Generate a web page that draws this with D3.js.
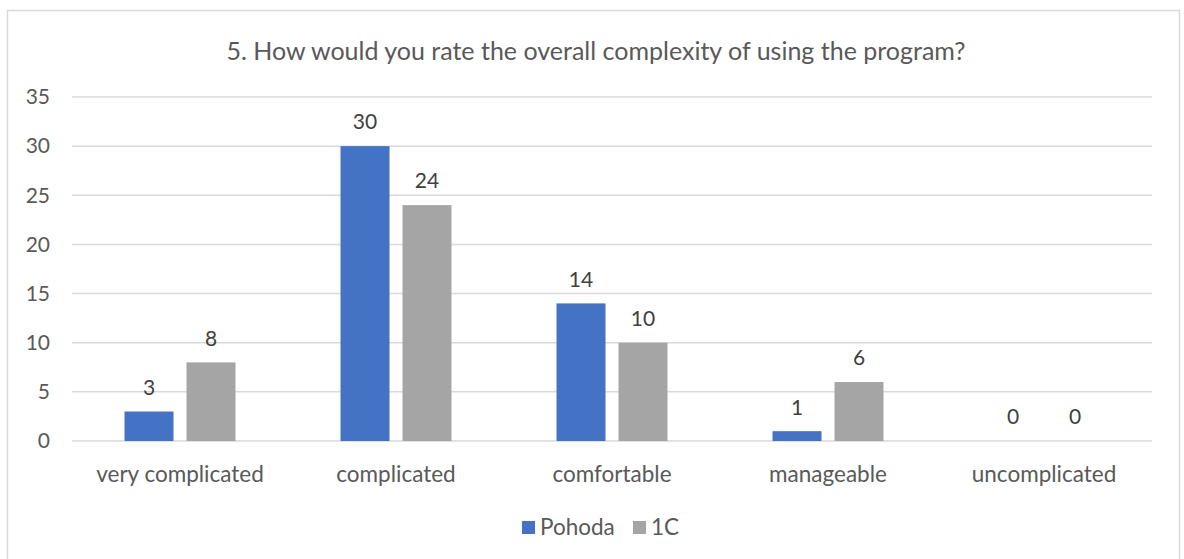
<!DOCTYPE html>
<html>
<head>
<meta charset="utf-8">
<script src="https://cdn.jsdelivr.net/npm/d3@7"></script>
<style>
  body { margin: 0; background: #fff; }
  text { font-family: Lato, "Open Sans", sans-serif; }
</style>
</head>
<body>
<div id="chart-area"></div>
<script>
var categories = ["very complicated", "complicated", "comfortable", "manageable", "uncomplicated"];
var seriesNames = ["Pohoda", "1C"];
var pohoda = [3, 30, 14, 1, 0];
var oneC = [8, 24, 10, 6, 0];
var yTicks = [0, 5, 10, 15, 20, 25, 30, 35];
var colors = ["#4472C4", "#A5A5A5"];

var width = 1184, height = 559;
var plotLeft = 72, plotRight = 1152, plotTop = 97, plotBottom = 441;

var svg = d3.select("#chart-area").append("svg")
	.attr("width", width)
	.attr("height", height);

// chart border
svg.append("rect")
	.attr("x", 7.5)
	.attr("y", 10.5)
	.attr("width", 1172)
	.attr("height", 560)
	.attr("fill", "white")
	.attr("stroke", "#d9d9d9")
	.attr("stroke-width", 1.5);

var x0 = d3.scaleBand().domain(categories).range([plotLeft, plotRight]);
var x1 = d3.scaleBand().domain(seriesNames)
	.range([52.5, 163.5])
	.paddingInner(13 / 62);
var y = d3.scaleLinear().domain([0, 35]).range([plotBottom, plotTop]);

// gridlines
svg.append("g").selectAll("line")
	.data(yTicks)
	.enter().append("line")
	.attr("x1", plotLeft)
	.attr("x2", plotRight)
	.attr("y1", function(d) { return y(d); })
	.attr("y2", function(d) { return y(d); })
	.attr("stroke", "#d9d9d9")
	.attr("stroke-width", 1.5);

// y axis labels
var yAxis = d3.axisLeft(y).tickValues(yTicks).tickSize(0).tickPadding(0);
var gy = svg.append("g")
	.attr("transform", "translate(50,0)")
	.call(yAxis);
gy.select(".domain").remove();
gy.selectAll("text")
	.attr("font-family", "Lato, sans-serif")
	.attr("font-size", 21)
	.attr("fill", "#595959");

// x axis labels
var xAxis = d3.axisBottom(x0).tickSize(0).tickPadding(0);
var gx = svg.append("g")
	.attr("transform", "translate(0," + (plotBottom + 25) + ")")
	.call(xAxis);
gx.select(".domain").remove();
gx.selectAll("text")
	.attr("font-family", "Lato, sans-serif")
	.attr("font-size", 22.5)
	.attr("fill", "#595959");

var rows = categories.map(function(c, i) {
	return { cat: c, values: [pohoda[i], oneC[i]] };
});

var groups = svg.append("g").selectAll("g")
	.data(rows)
	.enter().append("g")
	.attr("transform", function(d) { return "translate(" + x0(d.cat) + ",0)"; });

groups.selectAll("rect")
	.data(function(d) { return d.values.map(function(v, j) { return { name: seriesNames[j], v: v, j: j }; }); })
	.enter().append("rect")
	.attr("x", function(d) { return x1(d.name); })
	.attr("y", function(d) { return y(d.v); })
	.attr("width", x1.bandwidth())
	.attr("height", function(d) { return y(0) - y(d.v); })
	.attr("fill", function(d) { return colors[d.j]; });

// data labels
groups.selectAll("text")
	.data(function(d) { return d.values.map(function(v, j) { return { name: seriesNames[j], v: v }; }); })
	.enter().append("text")
	.attr("x", function(d) { return x1(d.name) + x1.bandwidth() / 2; })
	.attr("y", function(d) { return y(d.v) - 24; })
	.attr("dy", "0.35em")
	.attr("text-anchor", "middle")
	.attr("font-size", 21)
	.attr("fill", "#404040")
	.text(function(d) { return d.v; });

// title
svg.append("text")
	.attr("x", 596)
	.attr("y", 51)
	.attr("dy", "0.35em")
	.attr("text-anchor", "middle")
	.attr("font-size", 25)
	.attr("fill", "#595959")
	.text("5. How would you rate the overall complexity of using the program?");

// legend
var legend = svg.append("g");
var legendX = [522, 633];
seriesNames.forEach(function(name, i) {
	legend.append("rect")
		.attr("x", legendX[i])
		.attr("y", 521)
		.attr("width", 13)
		.attr("height", 13)
		.attr("fill", colors[i]);
	legend.append("text")
		.attr("x", legendX[i] + 18)
		.attr("y", 527)
		.attr("dy", "0.35em")
		.attr("font-size", 22.5)
		.attr("fill", "#595959")
		.text(name);
});
</script>
</body>
</html>
